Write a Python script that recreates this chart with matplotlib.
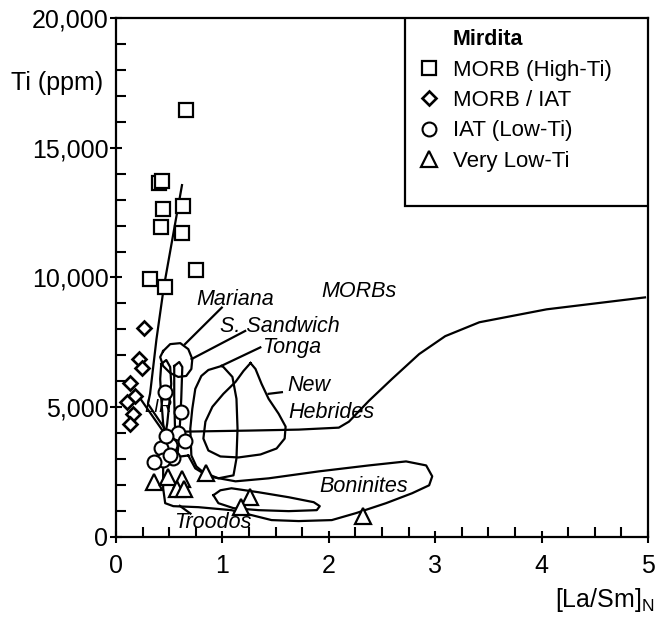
import matplotlib.pyplot as plt
from matplotlib.lines import Line2D
from matplotlib.patches import Rectangle
from matplotlib.ticker import MultipleLocator, FuncFormatter

plt.rcParams['font.family'] = ['Liberation Sans', 'DejaVu Sans']

# Mirdita samples
sq_x = [0.66, 0.40, 0.43, 0.44, 0.63, 0.42, 0.62, 0.75, 0.32, 0.46]
sq_y = [16450, 13650, 13700, 12650, 12750, 11950, 11700, 10300, 9950, 9650]
dia_x = [0.26, 0.22, 0.24, 0.13, 0.18, 0.10, 0.16, 0.13]
dia_y = [8050, 6850, 6500, 5950, 5450, 5200, 4750, 4350]
circ_x = [0.46, 0.61, 0.585, 0.65, 0.51, 0.425, 0.47, 0.54, 0.44, 0.36, 0.51]
circ_y = [5600, 4830, 3990, 3680, 3560, 3410, 3900, 3030, 2950, 2900, 3150]
tri_x = [0.36, 0.49, 0.62, 0.57, 0.64, 0.85, 1.26, 1.17, 2.32]
tri_y = [2100, 2300, 2250, 1850, 1850, 2450, 1550, 1150, 800]

# field outlines
trend_x = [0.62, 0.45, 0.38, 0.32, 0.30, 0.47]
trend_y = [13560, 9650, 7620, 5520, 5130, 4100]
lir_x = [0.21, 0.49]
lir_y = [5440, 3790]

mariana_x = [0.443, 0.509, 0.604, 0.679, 0.717, 0.708, 0.660, 0.585, 0.509, 0.443, 0.415]
mariana_y = [7164, 7432, 7470, 7240, 6857, 6474, 6206, 6168, 6321, 6589, 6934]
ss1_x = [0.425, 0.472, 0.509, 0.519, 0.500, 0.481, 0.462, 0.443, 0.425, 0.415]
ss1_y = [6666, 6819, 6551, 5900, 5133, 4367, 3908, 4367, 5325, 6091]
ss2_x = [0.547, 0.594, 0.623, 0.613, 0.594, 0.575, 0.557, 0.547]
ss2_y = [6589, 6743, 6551, 5325, 3793, 3103, 3793, 5325]
tonga_x = [0.991, 0.868, 0.802, 0.745, 0.717, 0.698, 0.708, 0.755, 0.821, 0.962,
           1.104, 1.132, 1.142, 1.132, 1.094, 1.009]
tonga_y = [6589, 6436, 6206, 5708, 4942, 4176, 3141, 2720, 2490, 2260,
           2375, 3026, 4176, 5325, 6168, 6551]
nh_x = [1.264, 1.198, 1.123, 1.009, 0.906, 0.840, 0.821, 0.868, 0.981, 1.151,
        1.358, 1.509, 1.585, 1.594, 1.528, 1.434, 1.368, 1.311]
nh_y = [6704, 6398, 5976, 5517, 5019, 4444, 3793, 3333, 3103, 3065,
        3180, 3410, 3793, 4253, 4751, 5325, 5900, 6474]
morb_x = [0.66, 1.245, 1.717, 2.094, 2.189, 2.377, 2.594, 2.849, 3.094, 3.415, 4.047, 4.972]
morb_y = [4061, 4100, 4138, 4214, 4444, 5248, 6091, 7049, 7739, 8275, 8773, 9233]
bon_x = [0.679, 0.745, 0.868, 1.123, 1.434, 1.906, 2.377, 2.726, 2.915, 2.972, 2.943,
         2.783, 2.538, 2.255, 2.028, 1.717, 1.462, 1.274, 1.085, 0.774, 0.538,
         0.462, 0.443, 0.443, 0.462]
bon_y = [3141, 2643, 2337, 2145, 2260, 2528, 2758, 2912, 2758, 2337, 1992,
         1686, 1303, 919, 651, 613, 651, 843, 1034, 1149, 1188,
         1303, 1877, 2643, 3026]
thin_x = [0.915, 0.981, 1.085, 1.34, 1.623, 1.858, 1.915, 1.887, 1.623, 1.34, 1.104, 0.962]
thin_y = [1609, 1800, 1877, 1724, 1532, 1341, 1188, 1034, 996, 1034, 1111, 1303]

lead_x = [[0.994, 0.648], [1.214, 0.71], [1.356, 0.994], [1.434, 1.559], [0.60, 0.70]]
lead_y = [[8840, 7432], [7940, 6857], [7306, 6601], [5517, 5580], [1200, 900]]

label_text = ['Mariana', 'MORBs', 'S. Sandwich', 'Tonga', 'New', 'Hebrides',
              'Boninites', 'Troodos', 'LIR']
label_x = [0.755, 1.93, 0.98, 1.37, 1.61, 1.62, 1.91, 0.55, 0.27]
label_y = [9160, 9460, 8130, 7310, 5840, 4815, 1940, 540, 5000]

fig = plt.figure(figsize=(6.57, 6.19), dpi=100)
ax = fig.add_axes([0.1766, 0.1325, 0.8097, 0.8384])

lw = 1.6
for xs, ys in [(trend_x, trend_y), (lir_x, lir_y), (morb_x, morb_y)] + list(zip(lead_x, lead_y)):
    ax.plot(xs, ys, color='black', lw=lw, zorder=2)
for xs, ys in [(mariana_x, mariana_y), (ss1_x, ss1_y), (ss2_x, ss2_y), (tonga_x, tonga_y),
               (nh_x, nh_y), (bon_x, bon_y), (thin_x, thin_y)]:
    ax.plot(xs + xs[:1], ys + ys[:1], color='black', lw=lw, zorder=2)

mk = dict(linestyle='none', markerfacecolor='white', markeredgecolor='black', zorder=4)
h_sq, = ax.plot(sq_x, sq_y, marker='s', ms=10.5, mew=1.6, label='MORB (High-Ti)', **mk)
h_dia, = ax.plot(dia_x, dia_y, marker='D', ms=7, mew=1.9, label='MORB / IAT', **mk)
h_circ, = ax.plot(circ_x, circ_y, marker='o', ms=10, mew=1.5, label='IAT (Low-Ti)', **mk)
h_tri, = ax.plot(tri_x, tri_y, marker='^', ms=11, mew=1.6, label='Very Low-Ti', **mk)

for t, x, y in zip(label_text, label_x, label_y):
    ax.text(x, y, t, style='italic', fontsize=15.5 if t != 'LIR' else 13,
            ha='left', va='center', zorder=3)

ax.set_xlim(0, 5)
ax.set_ylim(0, 20000)
ax.xaxis.set_major_locator(MultipleLocator(1))
ax.xaxis.set_minor_locator(MultipleLocator(0.25))
ax.yaxis.set_major_locator(MultipleLocator(5000))
ax.yaxis.set_minor_locator(MultipleLocator(1000))
ax.yaxis.set_major_formatter(FuncFormatter(lambda v, p: f'{v:,.0f}'))
ax.tick_params(which='major', direction='inout', length=9, width=1.5, labelsize=18)
ax.tick_params(which='minor', direction='in', length=7, width=1.5)
ax.tick_params(axis='x', which='major', pad=8)
ax.tick_params(axis='y', which='major', pad=1)
for s in ax.spines.values():
    s.set_linewidth(1.6)

ax.text(-0.024, 17500, 'Ti (ppm)', transform=ax.get_yaxis_transform(),
        ha='right', va='center', fontsize=18)
ax.text(1.013, -0.121, '[La/Sm]$_\\mathregular{N}$', transform=ax.transAxes,
        ha='right', va='center', fontsize=18)

ax.add_patch(Rectangle((0.543, 0.638), 0.457, 0.362, transform=ax.transAxes,
                       facecolor='white', edgecolor='black', lw=1.6, zorder=5))
blank = Line2D([], [], linestyle='none')
leg = ax.legend([blank, h_sq, h_dia, h_circ, h_tri],
                ['Mirdita', 'MORB (High-Ti)', 'MORB / IAT', 'IAT (Low-Ti)', 'Very Low-Ti'],
                loc='upper left', bbox_to_anchor=(0.568, 0.978), frameon=False,
                fontsize=16, borderpad=0, handlelength=1.0, handletextpad=0.55,
                labelspacing=0.42, borderaxespad=0)
leg.set_zorder(6)
leg.get_texts()[0].set_fontweight('bold')
leg.get_texts()[0].set_fontsize(15.5)

fig.savefig('out.png', dpi=100)
